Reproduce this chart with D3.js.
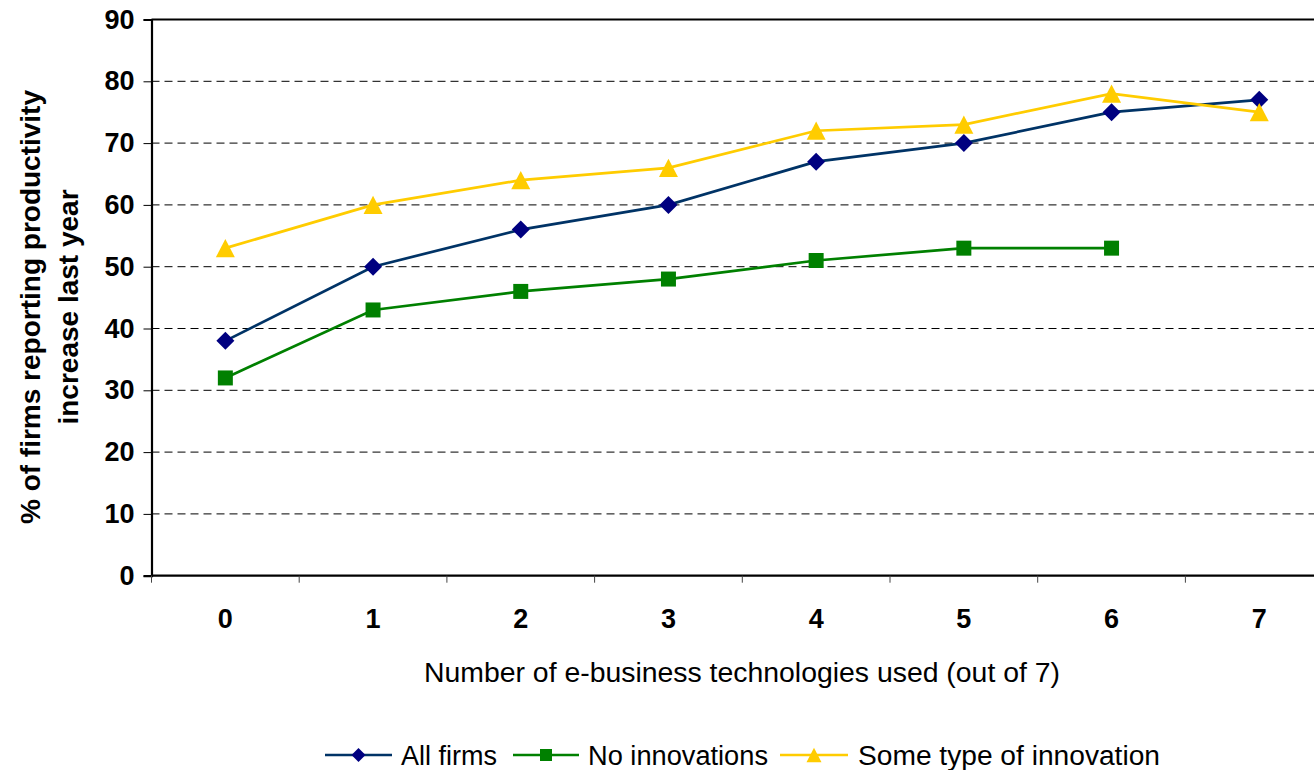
<!DOCTYPE html>
<html>
<head>
<meta charset="utf-8">
<script src="https://cdn.jsdelivr.net/npm/d3@7"></script>
<style>
  html, body { margin: 0; padding: 0; background: #fff; }
  svg { display: block; }
  text { font-family: "Liberation Sans", Arial, sans-serif; fill: #000; }
</style>
</head>
<body>
<svg id="chart" width="1314" height="770"></svg>
<script>
// Number of e-business technologies used
const categories = ["0", "1", "2", "3", "4", "5", "6", "7"];
// % of firms reporting a productivity increase, per series (null = no value)
const allFirms       = [38, 50, 56, 60, 67, 70, 75, 77];
const noInnovations  = [32, 43, 46, 48, 51, 53, 53, null];
const someInnovation = [53, 60, 64, 66, 72, 73, 78, 75];
const yTicks = [0, 10, 20, 30, 40, 50, 60, 70, 80, 90];

const seriesNames = ["All firms", "No innovations", "Some type of innovation"];

// Marker shapes whose "size" is the marker's full width in pixels
const diamondMark = {
  draw(ctx, w) { const r = w / 2; ctx.moveTo(0, -r); ctx.lineTo(r, 0); ctx.lineTo(0, r); ctx.lineTo(-r, 0); ctx.closePath(); }
};
const squareMark = {
  draw(ctx, w) { const r = w / 2; ctx.rect(-r, -r, w, w); }
};
const triangleMark = {
  draw(ctx, w) { const r = w / 2, h = w * 0.48; ctx.moveTo(0, -h); ctx.lineTo(r, h); ctx.lineTo(-r, h); ctx.closePath(); }
};

const series = [
  { name: seriesNames[0], values: allFirms,       line: "#003366", fill: "#000080", symbol: diamondMark,  size: 18, legendSize: 14 },
  { name: seriesNames[1], values: noInnovations,  line: "#008000", fill: "#008000", symbol: squareMark,   size: 15, legendSize: 12 },
  { name: seriesNames[2], values: someInnovation, line: "#FFCC00", fill: "#FFCC00", symbol: triangleMark, size: 19, legendSize: 15 }
];

const svg = d3.select("#chart");

const plotLeft = 151.5, plotTop = 19.5, bandStep = 147.7, plotBottom = 575.7;
const x = d3.scaleBand().domain(categories).range([plotLeft, plotLeft + bandStep * categories.length]);
const y = d3.scaleLinear().domain([0, 90]).range([plotBottom, plotTop]);
const plotRight = x.range()[1];

// Dashed horizontal gridlines
svg.append("g")
  .selectAll("line")
  .data(yTicks.filter(t => t > 0 && t < 90))
  .join("line")
  .attr("x1", plotLeft).attr("x2", plotRight)
  .attr("y1", d => y(d)).attr("y2", d => y(d))
  .attr("stroke", "#000")
  .attr("stroke-width", 1)
  .attr("stroke-dasharray", "8,5");

// Plot frame: top border
svg.append("line")
  .attr("x1", plotLeft).attr("x2", plotRight)
  .attr("y1", y(90)).attr("y2", y(90))
  .attr("stroke", "#000").attr("stroke-width", 2.2);

// Y axis
const yAxis = svg.append("g")
  .attr("transform", `translate(${plotLeft},0)`)
  .call(d3.axisLeft(y).tickValues(yTicks).tickSize(8).tickPadding(9).tickFormat(d3.format("d")));
yAxis.select(".domain").attr("stroke", "#000").attr("stroke-width", 2.2);
yAxis.selectAll(".tick line").attr("stroke", "#000").attr("stroke-width", 1);
yAxis.selectAll("text")
  .attr("font-family", "Liberation Sans, Arial, sans-serif")
  .attr("font-size", 27).attr("font-weight", "bold").attr("fill", "#000");

// X axis: tick marks sit between categories
const xAxisG = svg.append("g");
xAxisG.append("line")
  .attr("x1", plotLeft).attr("x2", plotRight)
  .attr("y1", plotBottom).attr("y2", plotBottom)
  .attr("stroke", "#000").attr("stroke-width", 2.2);
xAxisG.selectAll("line.tick")
  .data(categories)
  .join("line")
  .attr("class", "tick")
  .attr("x1", d => x(d)).attr("x2", d => x(d))
  .attr("y1", plotBottom).attr("y2", plotBottom + 7)
  .attr("stroke", "#444").attr("stroke-width", 1);
xAxisG.selectAll("text")
  .data(categories)
  .join("text")
  .attr("x", d => x(d) + x.bandwidth() / 2)
  .attr("y", 628)
  .attr("text-anchor", "middle")
  .attr("font-size", 27).attr("font-weight", "bold")
  .text(d => d);

// Axis titles
svg.append("text")
  .attr("x", 742).attr("y", 682)
  .attr("text-anchor", "middle")
  .attr("font-size", 27)
  .attr("textLength", 636).attr("lengthAdjust", "spacingAndGlyphs")
  .text("Number of e-business technologies used (out of 7)");

const yTitle = svg.append("g").attr("transform", "translate(0,307) rotate(-90)");
yTitle.append("text")
  .attr("x", 0).attr("y", 40)
  .attr("text-anchor", "middle")
  .attr("font-size", 28).attr("font-weight", "bold")
  .text("% of firms reporting productivity");
yTitle.append("text")
  .attr("x", 0).attr("y", 78)
  .attr("text-anchor", "middle")
  .attr("font-size", 28).attr("font-weight", "bold")
  .text("increase last year");

// Series lines and markers
const cx = d => x(d) + x.bandwidth() / 2;
series.forEach(s => {
  const pts = categories.map((c, i) => ({ c, v: s.values[i] })).filter(p => p.v != null);
  const line = d3.line().x(p => cx(p.c)).y(p => y(p.v));
  svg.append("path")
    .datum(pts)
    .attr("d", line)
    .attr("fill", "none")
    .attr("stroke", s.line)
    .attr("stroke-width", 2.7);
  svg.append("g")
    .selectAll("path")
    .data(pts)
    .join("path")
    .attr("transform", p => `translate(${cx(p.c)},${y(p.v)})`)
    .attr("d", d3.symbol().type(s.symbol).size(s.size))
    .attr("fill", s.fill);
});

// Legend
const legendItems = [
  { s: series[0], x0: 325, x1: 392, tx: 401, tw: 96 },
  { s: series[1], x0: 513, x1: 579, tx: 588, tw: 180 },
  { s: series[2], x0: 780, x1: 848, tx: 858, tw: 302 }
];
const legendY = 755;
const lg = svg.append("g");
legendItems.forEach(it => {
  lg.append("line")
    .attr("x1", it.x0).attr("x2", it.x1)
    .attr("y1", legendY).attr("y2", legendY)
    .attr("stroke", it.s.line).attr("stroke-width", 2.7);
  lg.append("path")
    .attr("transform", `translate(${(it.x0 + it.x1) / 2},${legendY})`)
    .attr("d", d3.symbol().type(it.s.symbol).size(it.s.legendSize))
    .attr("fill", it.s.fill);
  lg.append("text")
    .attr("x", it.tx).attr("y", legendY + 10)
    .attr("font-size", 27)
    .attr("textLength", it.tw).attr("lengthAdjust", "spacingAndGlyphs")
    .text(it.s.name);
});
</script>
</body>
</html>
